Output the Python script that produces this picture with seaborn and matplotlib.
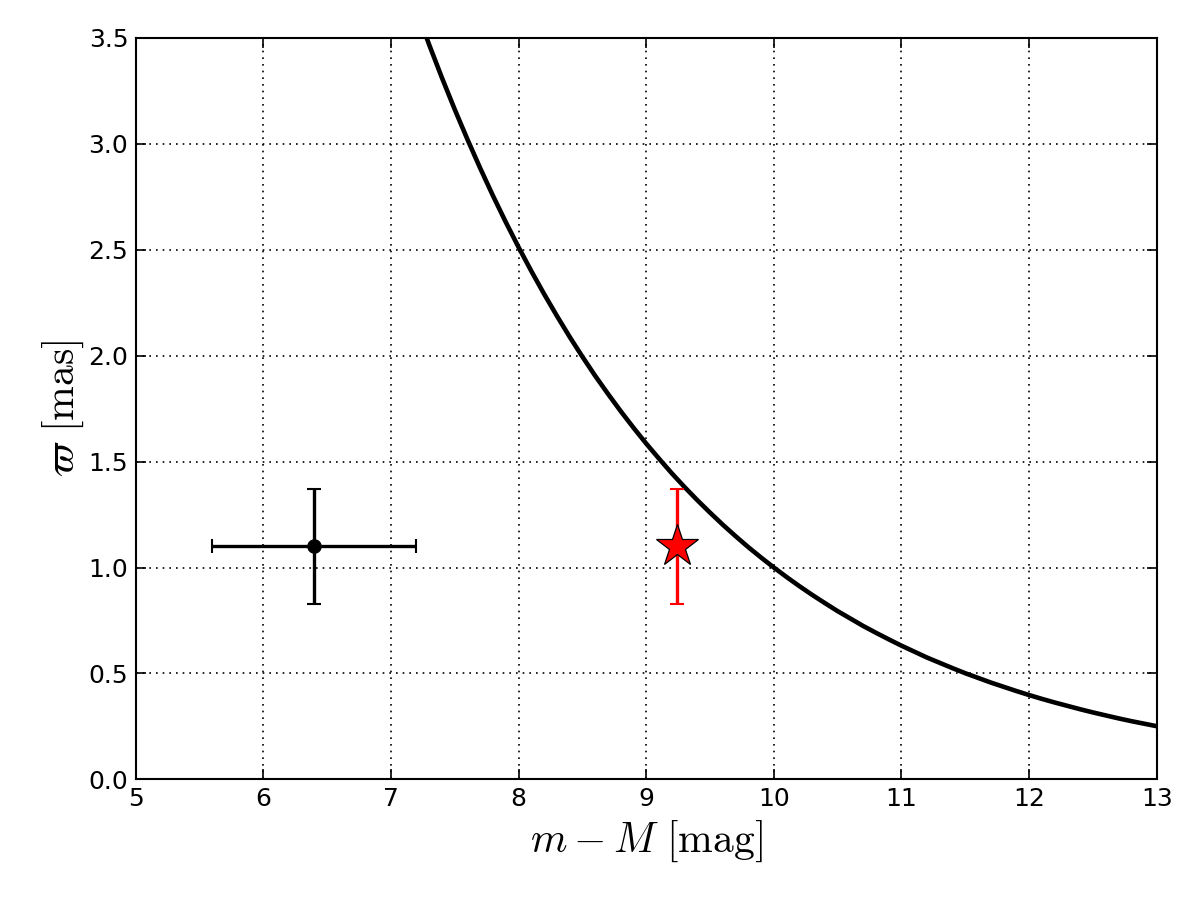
import numpy as np
import pandas as pd
import matplotlib
matplotlib.use("Agg")
import matplotlib.pyplot as plt
import seaborn as sns

# Curve: parallax (mas) vs distance modulus (mag)
curve_dm = [7.1, 7.2, 7.3, 7.4, 7.5, 7.6, 7.7, 7.8, 7.9, 8.0, 8.1, 8.2, 8.3, 8.4,
            8.5, 8.6, 8.7, 8.8, 8.9, 9.0, 9.1, 9.2, 9.3, 9.4, 9.5, 9.6, 9.7, 9.8,
            9.9, 10.0, 10.1, 10.2, 10.3, 10.4, 10.5, 10.6, 10.7, 10.8, 10.9, 11.0,
            11.1, 11.2, 11.3, 11.4, 11.5, 11.6, 11.7, 11.8, 11.9, 12.0, 12.1, 12.2,
            12.3, 12.4, 12.5, 12.6, 12.7, 12.8, 12.9, 13.0]
curve_plx = [3.802, 3.631, 3.467, 3.311, 3.162, 3.020, 2.884, 2.754, 2.630, 2.512,
             2.399, 2.291, 2.188, 2.089, 1.995, 1.905, 1.820, 1.738, 1.660, 1.585,
             1.514, 1.445, 1.380, 1.318, 1.259, 1.202, 1.148, 1.096, 1.047, 1.000,
             0.955, 0.912, 0.871, 0.832, 0.794, 0.759, 0.724, 0.692, 0.661, 0.631,
             0.603, 0.575, 0.550, 0.525, 0.501, 0.479, 0.457, 0.437, 0.417, 0.398,
             0.380, 0.363, 0.347, 0.331, 0.316, 0.302, 0.288, 0.275, 0.263, 0.251]

# Black point with errors in both directions
pt_dm, pt_dm_err = 6.4, 0.8
pt_plx, pt_plx_err = 1.1, 0.27

# Red star
star_dm = 9.24
star_plx, star_plx_err = 1.1, 0.27

sns.set_style("ticks")
plt.rcParams["mathtext.fontset"] = "cm"
plt.rcParams["font.family"] = ["DejaVu Sans"]
plt.rcParams["xtick.direction"] = "in"
plt.rcParams["ytick.direction"] = "in"
plt.rcParams["text.color"] = "black"
plt.rcParams["axes.labelcolor"] = "black"
plt.rcParams["xtick.color"] = "black"
plt.rcParams["ytick.color"] = "black"
plt.rcParams["lines.solid_joinstyle"] = "round"

fig, ax = plt.subplots(figsize=(8, 6), dpi=150)
fig.subplots_adjust(left=0.113, right=0.964, top=0.958, bottom=0.134)

df = pd.DataFrame({"dm": curve_dm, "plx": curve_plx})
sns.lineplot(data=df, x="dm", y="plx", color="black", linewidth=2.2, ax=ax, zorder=3)

ax.errorbar(pt_dm, pt_plx, xerr=pt_dm_err, yerr=pt_plx_err, fmt="o", color="black",
            markersize=6, elinewidth=1.6, capsize=3.5, capthick=1.0, zorder=4)
ax.errorbar(star_dm, star_plx, yerr=star_plx_err, fmt="none", ecolor="red",
            elinewidth=1.6, capsize=3.5, capthick=1.0, zorder=4)
ax.plot(star_dm, star_plx, marker="*", markersize=21, markerfacecolor="red",
        markeredgecolor="black", markeredgewidth=0.6, linestyle="none", zorder=5)

ax.set_xlim(5, 13)
ax.set_ylim(0, 3.5)
ax.set_xticks(np.arange(5, 14, 1))
ax.set_yticks(np.arange(0, 3.6, 0.5))
ax.set_yticklabels([f"{v:.1f}" for v in np.arange(0, 3.6, 0.5)])
ax.grid(True, color="black", linestyle=(0, (1, 3)), linewidth=0.8)
ax.tick_params(axis="both", labelsize=12, top=True, right=True, length=5, width=0.8)
for s in ax.spines.values():
    s.set_linewidth(1.0)
    s.set_color("black")

ax.set_xlabel(r"$m - M\ [\mathrm{mag}]$", fontsize=20)
ax.set_ylabel(r"$\varpi\ [\mathrm{mas}]$", fontsize=20, labelpad=1)

fig.savefig("out.png", dpi=150, facecolor="white")
